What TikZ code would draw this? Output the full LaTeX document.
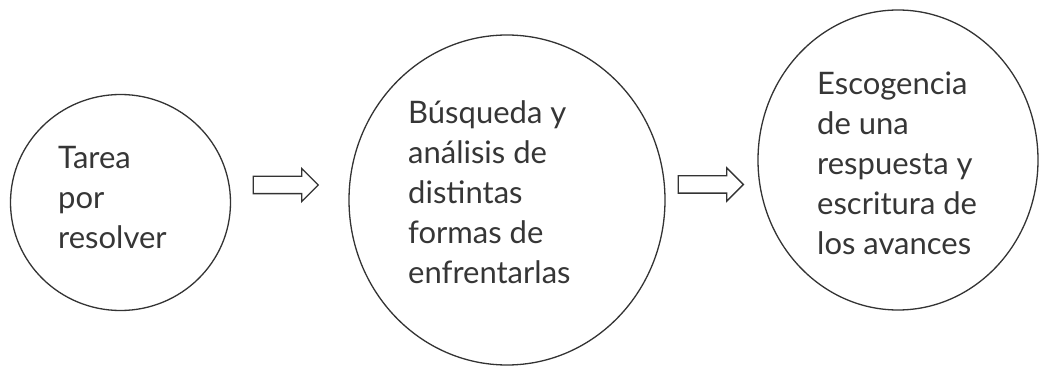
\documentclass[tikz,border=0pt]{standalone}
\usepackage{fontspec}
\setmainfont{Lato}
\usetikzlibrary{positioning, shapes.geometric, shapes.arrows, calc}
\definecolor{ink}{HTML}{333333}
\definecolor{textink}{HTML}{363636}

\begin{document}
\begin{tikzpicture}[
    x=1pt, y=-1pt,
    stage/.style={draw=ink, line width=1.3pt, ellipse, inner sep=0pt},
    stagetext/.style={align=left, text=textink, inner sep=0pt, font=\fontsize{31}{40}\selectfont},
    blockarr/.style={draw=ink, line width=1.3pt, single arrow, single arrow head extend=8pt,
        single arrow head indent=0pt, inner xsep=0pt, inner ysep=8pt, minimum height=65pt, minimum width=32pt}
]
\useasboundingbox (0,0) rectangle (1039,366);

% Stages
\node[stage, minimum width=220pt, minimum height=216pt] (tarea) at (120.5,202.5) {};
\node[stage, minimum width=316pt, minimum height=330pt] (busqueda) at (507,200) {};
\node[stage, minimum width=280pt, minimum height=300pt] (escogencia) at (898,160) {};

% Texts inside the stages
\node[stagetext, anchor=west] (tarea_txt) at (58,198) {Tarea\\por\\resolver};
\node[stagetext, anchor=west] (busqueda_txt) at (408,192) {Búsqueda y\\análisis de\\distintas\\formas de\\enfrentarlas};
\node[stagetext, anchor=west] (escogencia_txt) at (817,163) {Escogencia\\de una\\respuesta y\\escritura de\\los avances};

% Block arrows between stages
\node[blockarr] (arr1) at (281.5,185) {};
\node[blockarr] (arr2) at (706.5,184.5) {};

\end{tikzpicture}
\end{document}
